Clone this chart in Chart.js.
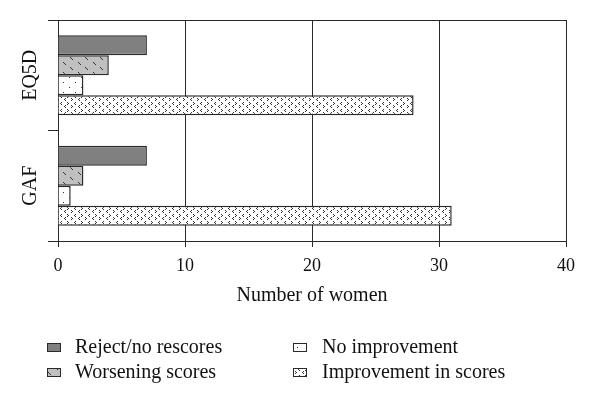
<!DOCTYPE html>
<html><head><meta charset="utf-8">
<script src="https://cdn.jsdelivr.net/npm/chart.js@4.4.0/dist/chart.umd.min.js"></script>
<style>html,body{margin:0;padding:0;background:#fff;}</style>
</head><body>
<canvas id="c" width="600" height="405"></canvas>
<script>
const categories = ['EQ5D', 'GAF'];
const seriesNames = ['Reject/no rescores', 'Worsening scores', 'No improvement', 'Improvement in scores'];
const rejectValues = [7, 7];
const worseningValues = [4, 2];
const noImprovementValues = [2, 1];
const improvementValues = [28, 31];
const xTicks = [0, 10, 20, 30, 40];

const FONT = "'Liberation Serif', 'DejaVu Serif', serif";
const LINE = '#2a2a2a';

function makePattern(w, h, bg, draw) {
  const c = document.createElement('canvas');
  c.width = w; c.height = h;
  const x = c.getContext('2d');
  x.fillStyle = bg; x.fillRect(0, 0, w, h);
  x.fillStyle = '#333'; x.strokeStyle = '#333';
  draw(x);
  return x.createPattern(c, 'repeat');
}
const solidDark = '#808080';
const hatchGray = makePattern(15, 10, '#c0c0c0', x => {
  x.fillRect(3, 2, 1, 1); x.fillRect(4, 3, 1, 1); x.fillRect(5, 4, 1, 1);
  x.fillRect(10, 7, 1, 1); x.fillRect(11, 8, 1, 1); x.fillRect(12, 9, 1, 1);
});
const dotsWhite = makePattern(12, 10, '#ffffff', x => {
  x.fillRect(3, 2, 1, 1); x.fillRect(9, 7, 1, 1);
});
function gt(x, ox, oy) { x.fillRect(ox, oy, 1, 1); x.fillRect(ox + 1, oy + 1, 1, 1); x.fillRect(ox, oy + 2, 1, 1); }
function lt(x, ox, oy) { x.fillRect(ox + 1, oy, 1, 1); x.fillRect(ox, oy + 1, 1, 1); x.fillRect(ox + 1, oy + 2, 1, 1); }
const chevWhite = makePattern(14, 7, '#ffffff', x => {
  gt(x, 1, 0); lt(x, 8, 0);
  lt(x, 4, 4); gt(x, 11, 4);
});

const fills = [solidDark, hatchGray, dotsWhite, chevWhite];
const values = [rejectValues, worseningValues, noImprovementValues, improvementValues];

const framePlugin = {
  id: 'frame',
  afterDraw(chart) {
    const { ctx, chartArea: a } = chart;
    ctx.save();
    ctx.strokeStyle = LINE; ctx.lineWidth = 1;
    ctx.beginPath();
    ctx.moveTo(a.left, Math.round(a.top) + 0.5);
    ctx.lineTo(a.right, Math.round(a.top) + 0.5);
    ctx.stroke();
    ctx.restore();
  }
};

const legendPlugin = {
  id: 'gridLegend',
  afterDraw(chart) {
    const ctx = chart.ctx;
    const boxX = [47, 293];
    const textX = [75, 322];
    const rows = [348, 373];
    ctx.save();
    ctx.font = "20px " + FONT;
    ctx.textBaseline = 'middle';
    chart.data.datasets.forEach((ds, i) => {
      const col = Math.floor(i / 2);
      const cy = rows[i % 2];
      const bx = boxX[col];
      ctx.fillStyle = ds.backgroundColor;
      ctx.fillRect(bx, cy - 5, 14, 9);
      ctx.strokeStyle = LINE; ctx.lineWidth = 1;
      ctx.strokeRect(bx + 0.5, cy - 4.5, 13, 8);
      ctx.fillStyle = '#111';
      ctx.fillText(ds.label, textX[col], cy);
    });
    ctx.restore();
  }
};

new Chart(document.getElementById('c'), {
  type: 'bar',
  data: {
    labels: categories,
    datasets: seriesNames.map((n, i) => ({
      label: n,
      data: values[i],
      backgroundColor: fills[i],
      borderColor: LINE,
      borderWidth: 1.5,
      barPercentage: 1,
      categoryPercentage: 0.725
    }))
  },
  options: {
    indexAxis: 'y',
    responsive: false,
    animation: false,
    devicePixelRatio: 1,
    layout: { padding: { left: 0, right: 34, top: 20, bottom: 94 } },
    plugins: { legend: { display: false }, tooltip: { enabled: false } },
    scales: {
      x: {
        min: 0, max: 40,
        afterBuildTicks(s) { s.ticks = xTicks.map(v => ({ value: v })); },
        ticks: { color: '#111', font: { family: FONT, size: 18 }, padding: 8, maxRotation: 0 },
        grid: { color: LINE, tickLength: 6, lineWidth: 1 },
        border: { color: LINE, width: 1 },
        title: { display: true, text: 'Number of women', color: '#111', font: { family: FONT, size: 20 }, padding: { top: 0, bottom: 3 } },
        afterFit(s) { s.height = 70; }
      },
      y: {
        ticks: { color: '#111', font: { family: FONT, size: 20 }, minRotation: 90, maxRotation: 90, crossAlign: 'center', padding: -8 },
        grid: { drawOnChartArea: false, color: LINE, tickLength: 10 },
        border: { color: LINE, width: 1 },
        afterFit(s) { s.width = 58; }
      }
    }
  },
  plugins: [framePlugin, legendPlugin]
});
</script>
</body></html>
